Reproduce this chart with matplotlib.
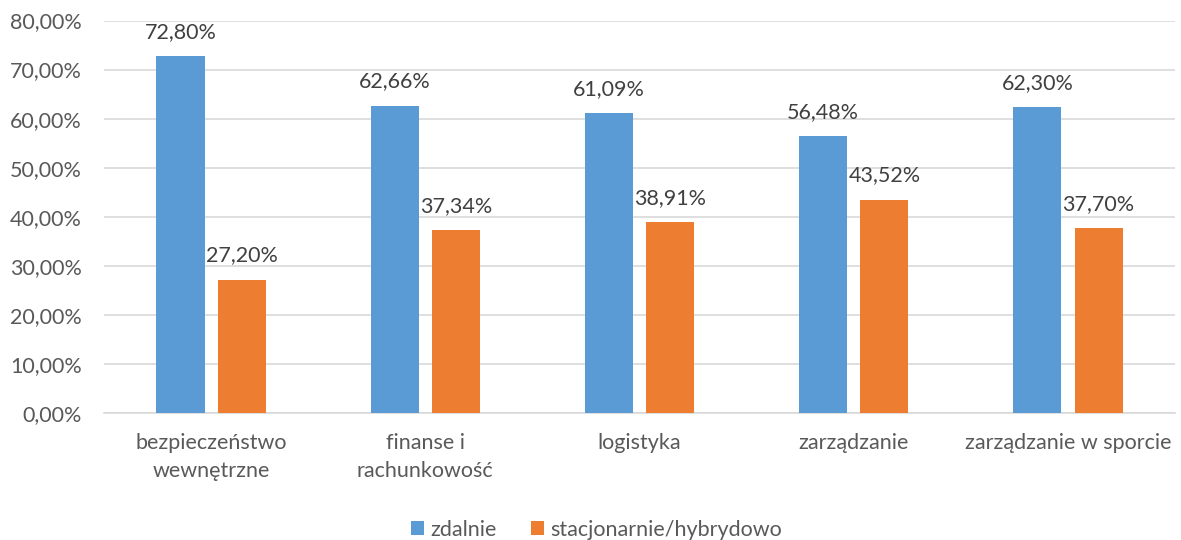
import numpy as np
import matplotlib.pyplot as plt
from matplotlib.ticker import FuncFormatter

# Dane
kategorie = ['bezpieczeństwo\nwewnętrzne', 'finanse i\nrachunkowość', 'logistyka',
             'zarządzanie', 'zarządzanie w sporcie']
zdalnie = [72.80, 62.66, 61.09, 56.48, 62.30]
stacjonarnie = [27.20, 37.34, 38.91, 43.52, 37.70]

plt.rcParams['font.family'] = ['Lato', 'DejaVu Sans']
kolor_tekstu = '#595959'
fs = 15.5

fig = plt.figure(figsize=(11.81, 5.40), dpi=100)
ax = fig.add_axes([0.088, 0.235, 0.907, 0.727])

x = np.arange(len(kategorie))
w = 0.225
b1 = ax.bar(x - 0.143, zdalnie, w, color='#5B9BD5', label='zdalnie', zorder=3)
b2 = ax.bar(x + 0.143, stacjonarnie, w, color='#ED7D31', label='stacjonarnie/hybrydowo', zorder=3)

def etykieta(v):
    return f'{v:.2f}%'.replace('.', ',')

# etykiety danych nad słupkami
for bars, vals in [(b1, zdalnie), (b2, stacjonarnie)]:
    for b, v in zip(bars, vals):
        ax.annotate(etykieta(v), (b.get_x() + b.get_width() / 2, v),
                    xytext=(0, 13), textcoords='offset points',
                    ha='center', va='baseline', fontsize=fs, color='#404040')

ax.set_xlim(-0.5, len(kategorie) - 0.5)
ax.set_ylim(0, 80)
ax.set_yticks(np.arange(0, 81, 10))
ax.yaxis.set_major_formatter(FuncFormatter(lambda v, p: etykieta(v)))
ax.set_xticks(x)
ax.set_xticklabels(kategorie, linespacing=1.5)

ax.grid(axis='y', color='#D9D9D9', linewidth=1.2, zorder=0)
for s in ['top', 'right', 'left']:
    ax.spines[s].set_visible(False)
ax.spines['bottom'].set_color('#D9D9D9')
ax.spines['bottom'].set_linewidth(1.2)
ax.tick_params(axis='both', length=0, labelsize=fs, colors=kolor_tekstu)
ax.tick_params(axis='x', pad=14)
ax.tick_params(axis='y', pad=16)

fig.legend(loc='lower center', bbox_to_anchor=(0.505, -0.035), ncol=2, frameon=False,
           fontsize=fs, labelcolor=kolor_tekstu, handlelength=0.6, handleheight=0.6,
           handletextpad=0.3, columnspacing=1.6)

fig.savefig('out.png', dpi=100)
